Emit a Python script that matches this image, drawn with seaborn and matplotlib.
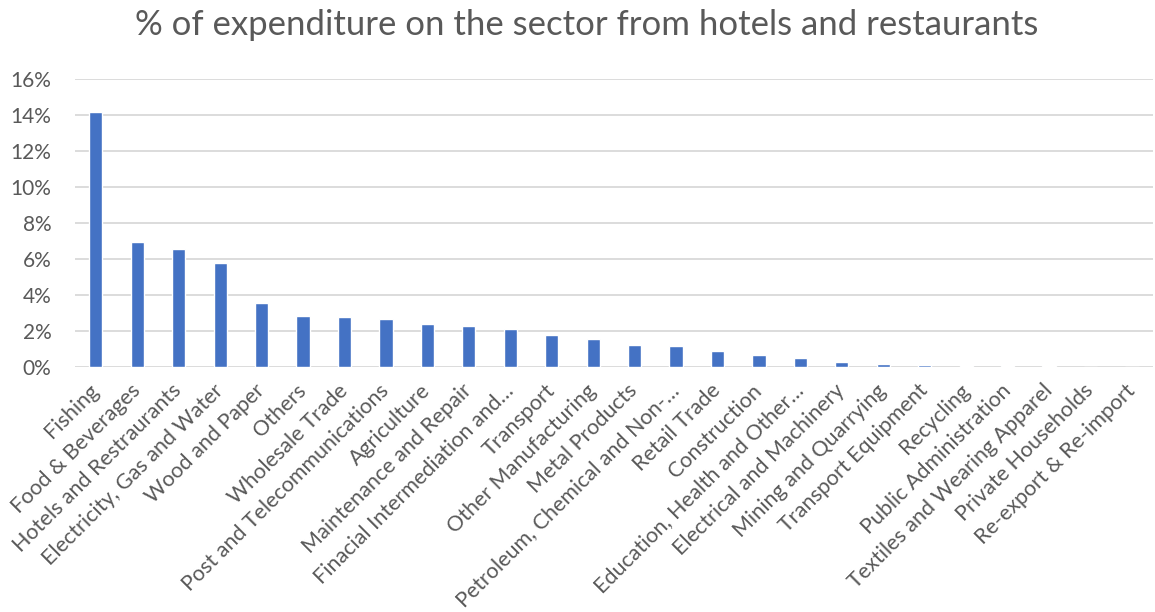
import matplotlib
matplotlib.use("Agg")
import matplotlib.pyplot as plt
import seaborn as sns
import pandas as pd
from matplotlib.ticker import PercentFormatter

sectors = [
    "Fishing", "Food & Beverages", "Hotels and Restraurants",
    "Electricity, Gas and Water", "Wood and Paper", "Others",
    "Wholesale Trade", "Post and Telecommunications", "Agriculture",
    "Maintenance and Repair", "Finacial Intermediation and…", "Transport",
    "Other Manufacturing", "Metal Products", "Petroleum, Chemical and Non-…",
    "Retail Trade", "Construction", "Education, Health and Other…",
    "Electrical and Machinery", "Mining and Quarrying", "Transport Equipment",
    "Recycling", "Public Administration", "Textiles and Wearing Apparel",
    "Private Households", "Re-export & Re-import",
]
share_pct = [
    14.15, 6.91, 6.53, 5.74, 3.56, 2.83, 2.78, 2.67, 2.35, 2.28,
    2.08, 1.78, 1.54, 1.19, 1.15, 0.85, 0.65, 0.45, 0.26, 0.15,
    0.09, 0.05, 0.03, 0.02, 0.0, 0.0,
]
y_ticks = [0, 2, 4, 6, 8, 10, 12, 14, 16]

df = pd.DataFrame({"sector": sectors, "share": share_pct})

sns.set_theme(style="white")
plt.rcParams["font.family"] = ["Lato", "DejaVu Sans"]
text_grey = "#595959"

fig = plt.figure(figsize=(11.55, 6.12), dpi=100)
ax = fig.add_axes([0.065, 0.401, 0.933, 0.470])

sns.barplot(data=df, x="sector", y="share", color="#4472C4", width=0.32,
            saturation=1, ax=ax, zorder=3)

ax.set_xlim(-0.5, len(sectors) - 0.5)
ax.set_ylim(0, 16)
ax.set_yticks(y_ticks)
ax.yaxis.set_major_formatter(PercentFormatter(100, decimals=0))
ax.yaxis.grid(True, color="#D9D9D9", linewidth=1.3, zorder=0)
ax.set_axisbelow(True)
for side in ["top", "right", "left", "bottom"]:
    ax.spines[side].set_visible(False)

ax.tick_params(axis="y", length=0, pad=17, labelsize=15, labelcolor=text_grey)
ax.tick_params(axis="x", length=0, pad=15, labelsize=15.5, labelcolor=text_grey)
ax.set_xticks(range(len(sectors)))
ax.set_xticklabels(sectors, rotation=45, ha="right", va="center",
                   rotation_mode="anchor")
ax.set_xlabel("")
ax.set_ylabel("")

fig.suptitle("% of expenditure on the sector from hotels and restaurants",
             x=0.508, y=0.985, fontsize=25, color=text_grey)

fig.savefig("out.png", dpi=100)
